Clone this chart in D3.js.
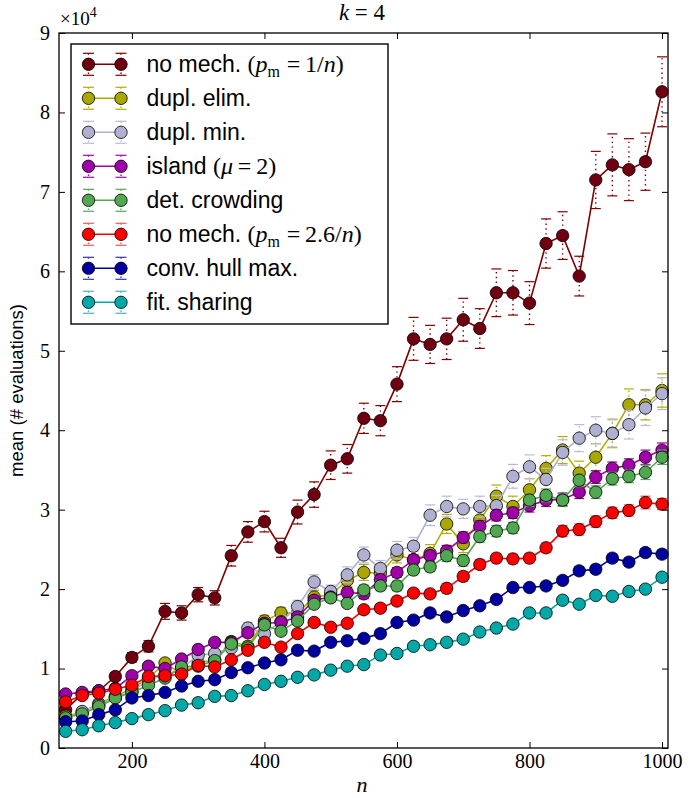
<!DOCTYPE html>
<html><head><meta charset="utf-8">
<script src="https://cdn.jsdelivr.net/npm/d3@7"></script>
<style>body{margin:0;background:#fff}svg{display:block}</style>
</head><body>
<script>
const nValues = [100,125,150,175,200,225,250,275,300,325,350,375,400,425,450,475,500,525,550,575,600,625,650,675,700,725,750,775,800,825,850,875,900,925,950,975,1000];

const noMech1 = [0.48,0.68,0.72,0.90,1.14,1.28,1.72,1.70,1.93,1.89,2.42,2.72,2.85,2.52,2.97,3.19,3.56,3.64,4.15,4.12,4.58,5.15,5.08,5.15,5.39,5.28,5.73,5.73,5.60,6.35,6.45,5.94,7.15,7.34,7.28,7.38,8.26];
const duplElim = [0.40,0.45,0.56,0.65,0.75,0.88,1.07,0.93,1.07,1.11,1.34,1.28,1.60,1.70,1.70,1.90,1.93,2.11,2.21,2.20,2.43,2.37,2.45,2.82,2.57,2.87,3.17,3.04,3.25,3.52,3.75,3.46,3.66,3.96,4.32,4.32,4.50];
const duplMin = [0.37,0.46,0.54,0.64,0.71,0.86,0.92,1.00,1.17,1.19,1.26,1.51,1.44,1.59,1.78,2.09,1.97,2.18,2.43,2.26,2.49,2.54,2.93,3.04,3.01,3.04,3.05,3.42,3.54,3.38,3.72,3.90,4.00,3.96,4.07,4.28,4.46];
const island = [0.68,0.70,0.72,0.75,0.91,1.03,1.00,1.12,1.24,1.33,1.33,1.45,1.57,1.58,1.65,1.86,1.90,1.96,1.94,2.12,2.21,2.37,2.42,2.48,2.65,2.79,2.93,2.96,3.05,3.12,3.13,3.22,3.41,3.52,3.56,3.66,3.75];
const detCrowding = [0.38,0.43,0.52,0.63,0.70,0.79,0.88,1.02,1.03,1.10,1.31,1.26,1.55,1.47,1.60,1.81,1.89,1.82,1.99,2.04,2.04,2.24,2.28,2.42,2.36,2.66,2.73,2.77,3.12,3.18,3.12,3.37,3.22,3.39,3.42,3.47,3.66];
const noMech26 = [0.58,0.66,0.69,0.74,0.79,0.90,0.91,0.93,1.04,1.02,1.11,1.23,1.33,1.27,1.44,1.58,1.52,1.57,1.74,1.76,1.85,1.95,1.94,2.01,2.16,2.31,2.39,2.38,2.39,2.52,2.73,2.75,2.85,2.96,2.99,3.09,3.07];
const convHull = [0.33,0.34,0.42,0.48,0.63,0.66,0.70,0.78,0.84,0.86,0.95,1.01,1.07,1.11,1.23,1.22,1.33,1.35,1.38,1.44,1.58,1.61,1.70,1.65,1.73,1.79,1.87,2.02,2.02,2.04,2.11,2.23,2.25,2.39,2.34,2.46,2.44];
const fitSharing = [0.21,0.23,0.28,0.32,0.37,0.42,0.47,0.54,0.57,0.65,0.66,0.72,0.80,0.84,0.89,0.92,0.98,1.03,1.05,1.17,1.19,1.28,1.30,1.33,1.37,1.46,1.51,1.56,1.70,1.70,1.86,1.81,1.92,1.91,1.97,2.00,2.15];

const errNoMech1 = [0.04,0.04,0.05,0.05,0.06,0.07,0.10,0.09,0.09,0.09,0.13,0.13,0.13,0.12,0.15,0.16,0.18,0.18,0.19,0.19,0.22,0.27,0.24,0.26,0.27,0.25,0.30,0.28,0.27,0.31,0.30,0.25,0.36,0.39,0.39,0.36,0.44];
const errDuplElim = [0.02,0.02,0.03,0.03,0.03,0.04,0.05,0.04,0.05,0.05,0.06,0.06,0.07,0.07,0.07,0.08,0.09,0.08,0.10,0.09,0.10,0.11,0.11,0.12,0.11,0.13,0.14,0.13,0.14,0.16,0.17,0.15,0.17,0.18,0.20,0.19,0.21];
const errDuplMin = [0.02,0.02,0.03,0.03,0.04,0.04,0.04,0.05,0.05,0.05,0.06,0.07,0.06,0.07,0.08,0.09,0.08,0.10,0.10,0.10,0.11,0.11,0.13,0.13,0.12,0.13,0.13,0.15,0.15,0.14,0.16,0.17,0.17,0.17,0.18,0.22,0.20];
const errIsland = [0.02,0.02,0.02,0.03,0.03,0.03,0.03,0.04,0.04,0.04,0.04,0.04,0.05,0.05,0.05,0.05,0.05,0.06,0.06,0.06,0.06,0.06,0.07,0.07,0.07,0.07,0.07,0.07,0.08,0.08,0.08,0.08,0.08,0.08,0.08,0.09,0.09];
const errDetCrowding = [0.02,0.02,0.02,0.03,0.03,0.03,0.03,0.03,0.04,0.04,0.04,0.04,0.05,0.05,0.05,0.05,0.05,0.05,0.06,0.06,0.06,0.06,0.06,0.07,0.07,0.07,0.07,0.07,0.08,0.08,0.08,0.08,0.08,0.08,0.08,0.09,0.09];
const errNoMech26 = [0.02,0.02,0.02,0.02,0.03,0.03,0.03,0.03,0.03,0.03,0.04,0.04,0.04,0.04,0.04,0.05,0.04,0.05,0.05,0.05,0.05,0.05,0.05,0.06,0.06,0.06,0.06,0.06,0.06,0.06,0.07,0.07,0.07,0.07,0.07,0.08,0.07];
const errConvHull = [0.015,0.015,0.02,0.02,0.02,0.02,0.02,0.02,0.02,0.03,0.03,0.03,0.03,0.03,0.03,0.03,0.03,0.03,0.03,0.03,0.04,0.04,0.04,0.04,0.04,0.04,0.04,0.04,0.04,0.04,0.04,0.05,0.05,0.05,0.05,0.05,0.05];
const errFitSharing = [0.01,0.01,0.01,0.01,0.015,0.015,0.015,0.02,0.02,0.02,0.02,0.02,0.02,0.02,0.02,0.02,0.025,0.025,0.025,0.025,0.03,0.03,0.03,0.03,0.03,0.03,0.03,0.03,0.035,0.035,0.035,0.035,0.035,0.035,0.04,0.04,0.04];

const seriesLabels = ["no mech. $(p_m = 1/n)$","dupl. elim.","dupl. min.","island $(\u03bc = 2)$","det. crowding","no mech. $(p_m = 2.6/n)$","conv. hull max.","fit. sharing"];
const lineColors = ["#800000","#b0ae00","#aeb0d0","#a800a8","#55a855","#ff0000","#0000a8","#00a8a8"];
const markerColors = ["#700010","#aaa800","#b0b0d2","#a000a8","#50a850","#ff0000","#0000a0","#00a8a8"];
const capColors = ["#800000","#b0ae00","#b8b8dc","#a800a8","#55a855","#ff5555","#3333b0","#40b8b8"];
const yTicks = [0,1,2,3,4,5,6,7,8,9];
const xTicks = [200,400,600,800,1000];

const means = [noMech1,duplElim,duplMin,island,detCrowding,noMech26,convHull,fitSharing];
const errs = [errNoMech1,errDuplElim,errDuplMin,errIsland,errDetCrowding,errNoMech26,errConvHull,errFitSharing];

const W = 694, H = 798;
const L = 59, R = 668, T = 33, B = 748;
const x = d3.scaleLinear().domain([90, 1009]).range([L, R]);
const y = d3.scaleLinear().domain([0, 9]).range([B, T]);

const svg = d3.select("body").append("svg").attr("width", W).attr("height", H);
svg.append("rect").attr("width", W).attr("height", H).attr("fill", "#fff");

const SERIF = "Liberation Serif, DejaVu Serif, serif";
const SANS = "Liberation Sans, Arial, sans-serif";

const plot = svg.append("g");
means.forEach((vals, si) => {
  const g = plot.append("g");
  const pts = nValues.map((n, i) => ({n, v: vals[i], e: errs[si][i]}));
  g.selectAll(null).data(pts).enter().append("line")
    .attr("x1", d => x(d.n)).attr("x2", d => x(d.n))
    .attr("y1", d => y(d.v - d.e)).attr("y2", d => y(d.v + d.e))
    .attr("stroke", capColors[si]).attr("stroke-width", 1.4)
    .attr("stroke-dasharray", "1.4,3.4");
  [-1, 1].forEach(s => {
    g.selectAll(null).data(pts).enter().append("line")
      .attr("x1", d => x(d.n) - 5).attr("x2", d => x(d.n) + 5)
      .attr("y1", d => y(d.v + s * d.e))
      .attr("y2", d => y(d.v + s * d.e))
      .attr("stroke", capColors[si]).attr("stroke-width", 1.2);
  });
  g.append("path").datum(pts)
    .attr("d", d3.line().x(d => x(d.n)).y(d => y(d.v)))
    .attr("fill", "none").attr("stroke", lineColors[si]).attr("stroke-width", 1.6);
  g.selectAll(null).data(pts).enter().append("circle")
    .attr("cx", d => x(d.n)).attr("cy", d => y(d.v)).attr("r", 6.2)
    .attr("fill", markerColors[si]).attr("stroke", "#000").attr("stroke-width", 0.8);
});

// frame
svg.append("rect").attr("x", L).attr("y", T).attr("width", R - L).attr("height", B - T)
  .attr("fill", "none").attr("stroke", "#000").attr("stroke-width", 1.3);

// axes with inward ticks
const axB = svg.append("g").attr("transform", `translate(0,${B})`)
  .call(d3.axisBottom(x).tickValues(xTicks).tickFormat(d3.format("d")).tickSizeInner(-6).tickSizeOuter(0).tickPadding(6));
const axT = svg.append("g").attr("transform", `translate(0,${T})`)
  .call(d3.axisTop(x).tickValues(xTicks).tickSizeInner(-6).tickSizeOuter(0).tickFormat(""));
const axL = svg.append("g").attr("transform", `translate(${L},0)`)
  .call(d3.axisLeft(y).tickValues(yTicks).tickSizeInner(-6).tickSizeOuter(0).tickPadding(9));
const axR = svg.append("g").attr("transform", `translate(${R},0)`)
  .call(d3.axisRight(y).tickValues(yTicks).tickSizeInner(-6).tickSizeOuter(0).tickFormat(""));
[axB, axT, axL, axR].forEach(a => {
  a.attr("font-family", null).attr("font-size", null);
  a.select(".domain").remove();
  a.selectAll(".tick line").attr("stroke", "#000").attr("stroke-width", 1);
  a.selectAll("text").style("font-family", SERIF).style("font-size", "20px").attr("fill", "#000");
});

// x10^4
const sci = svg.append("text").attr("x", 60).attr("y", 25).style("font-family", SERIF).style("font-size", "19px");
sci.append("tspan").text("\u00d710");
sci.append("tspan").style("font-size", "14px").attr("dy", -8).text("4");

// title
const title = svg.append("text").attr("x", 362).attr("y", 20).attr("text-anchor", "middle")
  .style("font-family", SERIF).style("font-size", "23px");
title.append("tspan").style("font-style", "italic").text("k");
title.append("tspan").text(" = 4");

// axis labels
svg.append("text").attr("x", 362).attr("y", 792).attr("text-anchor", "middle")
  .style("font-family", SERIF).style("font-style", "italic").style("font-size", "22px").text("n");
svg.append("text").attr("transform", `translate(23,${(T + B) / 2}) rotate(-90)`)
  .attr("text-anchor", "middle").style("font-family", SANS).style("font-size", "18.5px")
  .text("mean (# evaluations)");

// legend
const lg = svg.append("g");
lg.append("rect").attr("x", 71).attr("y", 44).attr("width", 317).attr("height", 280)
  .attr("fill", "#fff").attr("stroke", "#000").attr("stroke-width", 1.4);
function renderLabel(textEl, label) {
  const parts = label.split("$");
  parts.forEach((p, k) => {
    if (k % 2 === 0) {
      if (p) textEl.append("tspan").style("font-family", SANS).text(p);
    } else {
      let i = 0;
      while (i < p.length) {
        const c = p[i];
        if (c === "_") {
          textEl.append("tspan").style("font-family", SERIF).style("font-size", "16px").attr("dy", 5).text(p[i + 1]);
          textEl.append("tspan").style("font-family", SERIF).attr("dy", -5).text("\u200a");
          i += 2; continue;
        }
        const italic = /[a-z\u03bc]/i.test(c);
        const t = c === " " ? "\u2009" : c;
        textEl.append("tspan").style("font-family", SERIF).style("font-style", italic ? "italic" : "normal")
          .style("font-size", "24px").text(t);
        i++;
      }
    }
  });
}
seriesLabels.forEach((lab, si) => {
  const cy = 64.3 + si * 34.0;
  const row = lg.append("g");
  [88.5, 121].forEach(cx => {
    row.append("line").attr("x1", cx).attr("x2", cx).attr("y1", cy - 11).attr("y2", cy + 11)
      .attr("stroke", capColors[si]).attr("stroke-width", 1.4).attr("stroke-dasharray", "1.4,3.4");
    [-11, 11].forEach(o => row.append("line").attr("x1", cx - 5.5).attr("x2", cx + 5.5)
      .attr("y1", cy + o).attr("y2", cy + o).attr("stroke", capColors[si]).attr("stroke-width", 1.2));
  });
  row.append("line").attr("x1", 88.5).attr("x2", 121).attr("y1", cy).attr("y2", cy)
    .attr("stroke", lineColors[si]).attr("stroke-width", 1.6);
  [88.5, 121].forEach(cx => row.append("circle").attr("cx", cx).attr("cy", cy).attr("r", 6.2)
    .attr("fill", markerColors[si]).attr("stroke", "#000").attr("stroke-width", 0.8));
  const t = row.append("text").attr("x", 146.5).attr("y", cy + 8).style("font-size", "23px").attr("fill", "#000");
  renderLabel(t, lab);
});
</script>
</body></html>
